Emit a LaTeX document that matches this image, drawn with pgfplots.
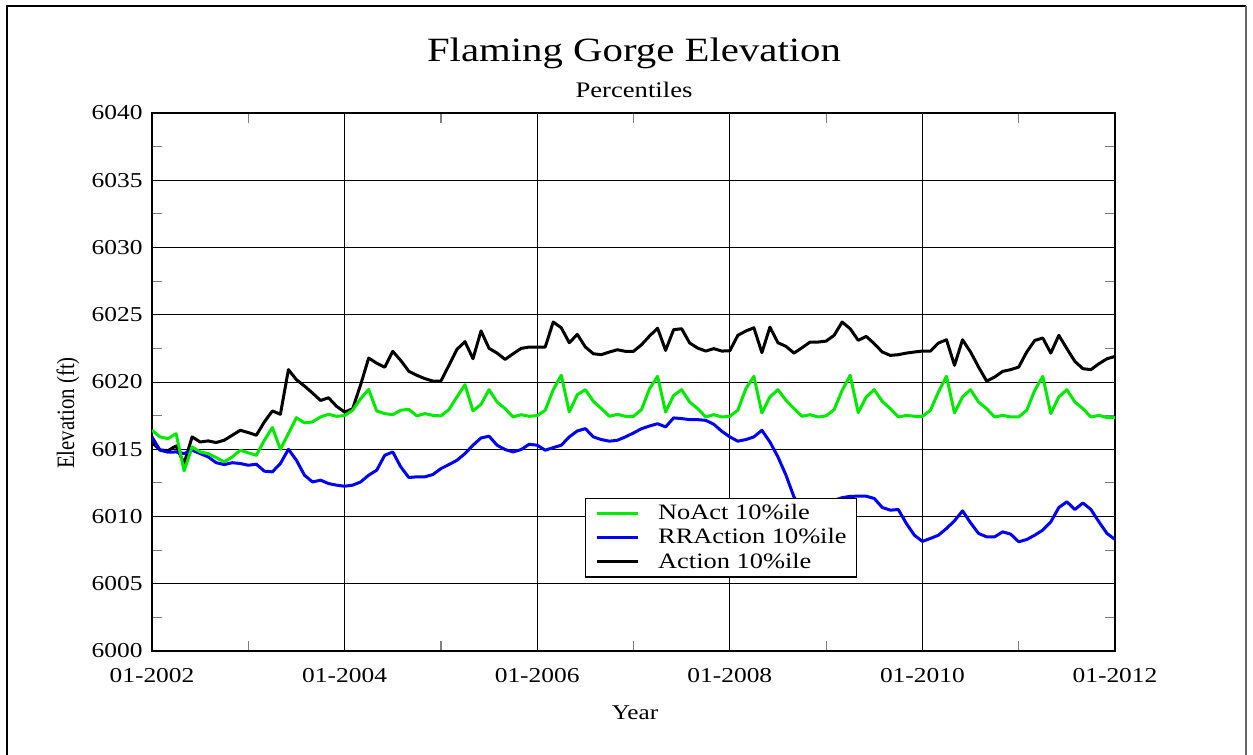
\documentclass[border=0pt]{standalone}
\usepackage{fontspec}
\setmainfont{Liberation Serif}[FakeStretch=1.2]
\newfontfamily\ylabfont{Liberation Serif}[FakeStretch=0.833]
\usepackage{pgfplots}
\usepackage{pgfplotstable}
\pgfplotsset{compat=1.18}

\definecolor{noact}{RGB}{0,235,0}
\definecolor{rraction}{RGB}{0,0,245}

% month index (0 = 01-2002), Action, RRAction, NoAct 10th percentile (ft)
\pgfplotstableread{
m act rr noact
0 6015.5 6015.92 6016.41
1 6014.95 6014.93 6015.92
2 6014.9 6014.78 6015.79
3 6015.25 6014.8 6016.16
4 6013.94 6014.68 6013.39
5 6015.92 6014.93 6015.17
6 6015.54 6014.68 6014.8
7 6015.62 6014.43 6014.68
8 6015.5 6014.0 6014.38
9 6015.67 6013.86 6014.06
10 6016.04 6014.0 6014.43
11 6016.41 6013.94 6014.93
12 6016.24 6013.81 6014.73
13 6016.04 6013.89 6014.55
14 6017.03 6013.37 6015.67
15 6017.85 6013.32 6016.61
16 6017.6 6013.94 6015.0
17 6020.92 6015.0 6016.16
18 6020.17 6014.18 6017.35
19 6019.7 6013.07 6016.96
20 6019.18 6012.57 6017.03
21 6018.63 6012.7 6017.4
22 6018.83 6012.45 6017.6
23 6018.19 6012.33 6017.45
24 6017.77 6012.25 6017.5
25 6018.0 6012.33 6017.9
26 6019.8 6012.57 6018.76
27 6021.78 6013.07 6019.45
28 6021.4 6013.44 6017.85
29 6021.1 6014.55 6017.65
30 6022.28 6014.8 6017.57
31 6021.6 6013.69 6017.9
32 6020.8 6012.9 6017.97
33 6020.5 6012.95 6017.48
34 6020.25 6012.95 6017.65
35 6020.07 6013.12 6017.52
36 6020.07 6013.56 6017.48
37 6021.24 6013.86 6017.95
38 6022.43 6014.18 6018.89
39 6023.0 6014.68 6019.8
40 6021.73 6015.3 6017.85
41 6023.8 6015.84 6018.34
42 6022.5 6015.97 6019.43
43 6022.15 6015.3 6018.51
44 6021.68 6014.98 6018.02
45 6022.1 6014.8 6017.4
46 6022.5 6014.98 6017.57
47 6022.6 6015.37 6017.45
48 6022.6 6015.3 6017.5
49 6022.6 6014.93 6017.9
50 6024.46 6015.12 6019.43
51 6024.03 6015.3 6020.5
52 6022.92 6015.92 6017.77
53 6023.54 6016.36 6019.06
54 6022.6 6016.53 6019.43
55 6022.1 6015.92 6018.56
56 6022.03 6015.72 6018.02
57 6022.23 6015.6 6017.45
58 6022.4 6015.67 6017.6
59 6022.28 6015.92 6017.45
60 6022.28 6016.21 6017.45
61 6022.77 6016.53 6017.95
62 6023.42 6016.73 6019.5
63 6024.0 6016.9 6020.42
64 6022.35 6016.66 6017.77
65 6023.89 6017.33 6019.0
66 6023.96 6017.28 6019.43
67 6022.9 6017.2 6018.51
68 6022.52 6017.2 6018.02
69 6022.3 6017.15 6017.4
70 6022.48 6016.86 6017.57
71 6022.3 6016.34 6017.4
72 6022.32 6015.92 6017.45
73 6023.47 6015.6 6017.9
74 6023.79 6015.72 6019.5
75 6024.03 6015.92 6020.42
76 6022.18 6016.41 6017.7
77 6024.08 6015.54 6018.89
78 6022.92 6014.43 6019.43
79 6022.65 6013.07 6018.64
80 6022.15 6011.45 6018.02
81 6022.55 6010.5 6017.45
82 6022.97 6010.2 6017.57
83 6022.97 6010.4 6017.4
84 6023.04 6010.9 6017.48
85 6023.47 6011.2 6017.95
86 6024.46 6011.4 6019.38
87 6023.96 6011.5 6020.5
88 6023.1 6011.51 6017.72
89 6023.39 6011.51 6018.89
90 6022.85 6011.34 6019.43
91 6022.23 6010.67 6018.56
92 6021.98 6010.47 6018.02
93 6022.03 6010.52 6017.4
94 6022.15 6009.48 6017.52
95 6022.23 6008.61 6017.45
96 6022.3 6008.15 6017.45
97 6022.3 6008.37 6017.9
98 6022.9 6008.61 6019.26
99 6023.14 6009.11 6020.42
100 6021.24 6009.68 6017.7
101 6023.14 6010.42 6018.89
102 6022.23 6009.53 6019.43
103 6021.11 6008.74 6018.51
104 6020.07 6008.49 6018.02
105 6020.37 6008.49 6017.4
106 6020.79 6008.86 6017.52
107 6020.92 6008.69 6017.4
108 6021.11 6008.12 6017.4
109 6022.23 6008.29 6017.9
110 6023.09 6008.61 6019.38
111 6023.27 6008.99 6020.42
112 6022.15 6009.6 6017.65
113 6023.47 6010.67 6018.89
114 6022.48 6011.09 6019.43
115 6021.53 6010.52 6018.51
116 6020.99 6011.01 6018.02
117 6020.92 6010.52 6017.4
118 6021.36 6009.6 6017.52
119 6021.73 6008.74 6017.35
120 6021.9 6008.29 6017.35
}\elev

\begin{document}
\begin{tikzpicture}[x=0.5pt,y=0.5pt]
\path[use as bounding box] (0,0) rectangle (1253,755);
% outer frame
\draw[line width=1.2pt] (7,0) -- (7,749) -- (1246,749);
\draw[line width=1pt, black!60] (1246,749) -- (1246,0);

\node[anchor=base] at (634,693) {\fontsize{17}{20}\selectfont Flaming Gorge Elevation};
\node[anchor=base] at (634,657) {\fontsize{11.1}{13}\selectfont Percentiles};
\node[anchor=base] at (635,35) {\fontsize{10.5}{12}\selectfont Year};
\node[rotate=90] at (68,342) {\ylabfont\fontsize{12.5}{14}\selectfont Elevation (ft)};

\begin{axis}[
  at={(76pt,52pt)}, anchor=south west,
  scale only axis, width=481.5pt, height=269pt,
  xmin=0, xmax=120, ymin=6000, ymax=6040,
  xtick={0,24,48,72,96,120},
  xticklabels={01-2002,01-2004,01-2006,01-2008,01-2010,01-2012},
  minor xtick={12,36,60,84,108},
  ytick={6000,6005,...,6040},
  minor y tick num=1,
  grid=major,
  major grid style={black, line width=0.5pt},
  axis line style={line width=0.9pt},
  tick align=inside,
  major tick length=0pt,
  minor tick length=5pt,
  minor tick style={line width=0.6pt},
  scaled y ticks=false,
  /pgf/number format/1000 sep={},
  /pgf/number format/assume math mode=true,
  tick label style={font=\fontsize{10.6}{12}\selectfont},
  xticklabel style={anchor=base, yshift=-16pt},
  yticklabel style={inner sep=0pt, xshift=-4.5pt},
  reverse legend,
  legend image code/.code={\draw[#1] (0pt,0pt) -- (20.5pt,0pt);},
  legend style={at={(0.4496,0.285)}, anchor=north west,
    draw=black, line width=0.6pt, fill=white,
    font=\fontsize{11}{12}\selectfont,
    inner xsep=5pt, inner ysep=3pt, row sep=3pt,
    nodes={inner sep=0pt, anchor=west},
    /tikz/every odd column/.append style={column sep=9.3pt}},
]
\addplot[black, line width=1.5pt, line join=round] table[x=m, y=act] {\elev};
\addlegendentry{Action 10\%ile}
\addplot[rraction, line width=1.5pt, line join=round] table[x=m, y=rr] {\elev};
\addlegendentry{RRAction 10\%ile}
\addplot[noact, line width=1.5pt, line join=round] table[x=m, y=noact] {\elev};
\addlegendentry{NoAct 10\%ile}
\end{axis}
\end{tikzpicture}
\end{document}
